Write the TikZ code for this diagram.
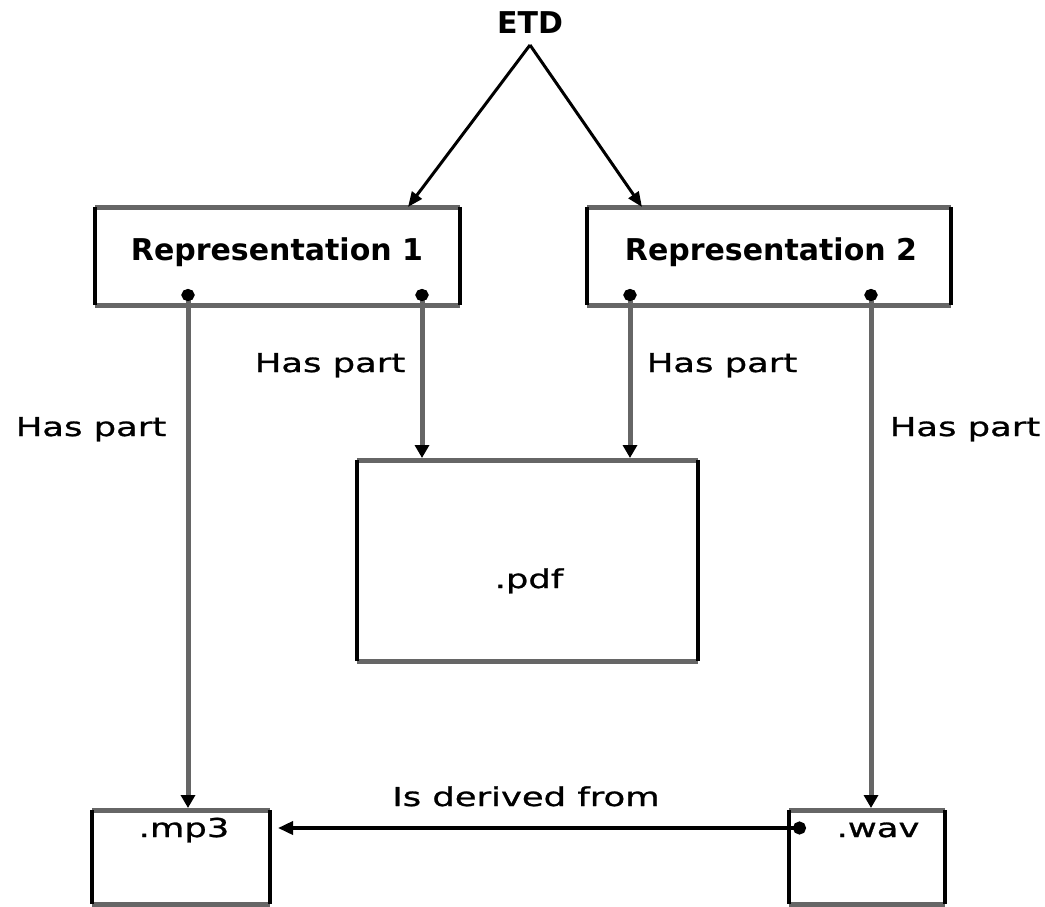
\documentclass[tikz,border=0pt]{standalone}
\usepackage{fontspec}
\setmainfont{DejaVu Sans}
\newfontfamily\relfont[FakeStretch=1.36,FakeBold=1]{DejaVu Sans}
\usetikzlibrary{arrows.meta,calc}
\definecolor{edgegray}{RGB}{102,102,102}

% box frame: grey top/bottom rules, black side rules
\newcommand\frameit[1]{%
  \draw[hedge] (#1.north west) -- (#1.north east) (#1.south west) -- (#1.south east);
  \draw[vedge] (#1.north west) -- (#1.south west) (#1.north east) -- (#1.south east);}

\begin{document}
\begin{tikzpicture}[x=1pt,y=-1pt,
  box/.style={rectangle,inner sep=0pt,outer sep=0pt},
  hedge/.style={draw=edgegray,line width=5pt},
  vedge/.style={draw=black,line width=4.5pt},
  head/.style={font=\fontsize{30}{36}\selectfont\bfseries,inner sep=0pt,anchor=base},
  rel/.style={font=\relfont\fontsize{26}{31}\selectfont,inner sep=0pt,anchor=base},
  haspart/.style={draw=edgegray,line width=5pt,
    {Circle[length=12pt,width=13pt,color=black]}-{Triangle[length=13pt,width=14pt,color=black]}},
  derived/.style={draw=black,line width=3.5pt,
    {Circle[length=13pt,width=13pt]}-{Triangle[length=15pt,width=13pt]}},
  member/.style={draw=black,line width=3pt,-{Triangle[length=15pt,width=12pt]}},
]
\fill[white] (0,0) rectangle (1045,906);
\useasboundingbox (0,0) rectangle (1045,906);

% boxes
\node[box,minimum width=365pt,minimum height=98pt] (r1) at (277.5,256) {};
\node[box,minimum width=364pt,minimum height=98pt] (r2) at (769,256) {};
\node[box,minimum width=341pt,minimum height=201pt] (pdf) at (527.5,560.5) {};
\node[box,minimum width=178pt,minimum height=94pt] (mp3) at (181,857) {};
\node[box,minimum width=156pt,minimum height=94pt] (wav) at (867,857) {};
\frameit{r1}\frameit{r2}\frameit{pdf}\frameit{mp3}\frameit{wav}

% texts
\node[head] (etd) at (530,33) {ETD};
\node[head] (r1t) at (277,260) {Representation 1};
\node[head] (r2t) at (771,260) {Representation 2};
\node[rel] (pdft) at (529,588) {.pdf};
\node[rel] (mp3t) at (184,837) {.mp3};
\node[rel] (wavt) at (878,837) {.wav};
\node[rel] (hp1) at (91,436) {Has part};
\node[rel] (hp2) at (330,372) {Has part};
\node[rel] (hp3) at (722,372) {Has part};
\node[rel] (hp4) at (965,436) {Has part};
\node[rel] (idf) at (526,806) {Is derived from};

% connector columns
\coordinate (c1) at (188,0);
\coordinate (c2) at (422,0);
\coordinate (c3) at (630,0);
\coordinate (c4) at (871,0);
\coordinate (apex) at (530,45);
\coordinate (row) at (0,828);

\draw[member] (apex) -- (r1.north -| 408,0);
\draw[member] (apex) -- (r2.north -| 642,0);

\draw[haspart] ($(r1.south -| c1)+(0,-16)$) -- ($(mp3.north -| c1)+(0,-2)$);
\draw[haspart] ($(r1.south -| c2)+(0,-16)$) -- ($(pdf.north -| c2)+(0,-2)$);
\draw[haspart] ($(r2.south -| c3)+(0,-16)$) -- ($(pdf.north -| c3)+(0,-2)$);
\draw[haspart] ($(r2.south -| c4)+(0,-16)$) -- ($(wav.north -| c4)+(0,-2)$);

\draw[derived] ($(wav.west |- row)+(17,0)$) -- ($(mp3.east |- row)+(8,0)$);
\end{tikzpicture}
\end{document}
